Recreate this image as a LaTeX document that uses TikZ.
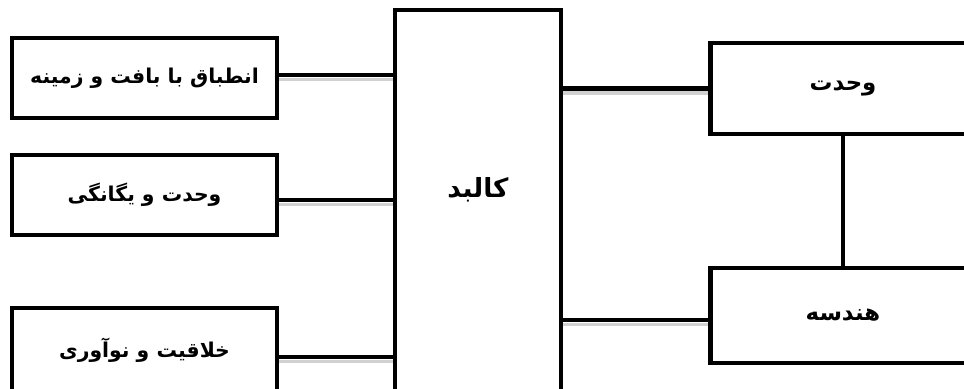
\documentclass[tikz,border=0pt]{standalone}
\usepackage{fontspec}
\newfontfamily\fafont[Script=Arabic]{DejaVu Sans}
\TeXXeTstate=1
\usetikzlibrary{positioning,calc}
\newcommand{\fa}[1]{{\fafont\bfseries\beginR #1\endR}}

\begin{document}
\begin{tikzpicture}[x=0.2mm, y=-0.2mm, every node/.style={font=\fontsize{11.6}{13}\selectfont}]
  \tikzstyle{box}=[draw=black, line width=2.5pt, fill=white, minimum width=5.3cm, align=center, inner sep=0pt]
  \tikzstyle{link}=[line width=2.4pt, preaction={draw=black!18, line width=2pt, transform canvas={yshift=-2.5pt}}]

  \useasboundingbox (0,0) rectangle (964,389);
  \clip (0,0) rectangle (964,389);

  \node[box, minimum height=1.6cm] (fit) at (144.5,78) {\fa{انطباق با بافت و زمینه}};
  \node[box, minimum height=1.6cm] (unity) at (144.5,195) {\fa{وحدت و یگانگی}};
  \node[box, minimum height=1.68cm] (creat) at (144.5,350) {\fa{خلاقیت و نوآوری}};
  \node[box, minimum width=3.32cm, minimum height=7.8cm,
        label={[yshift=0.3cm, font=\fontsize{15}{17}\selectfont]center:\fa{کالبد}}] (kalbad) at (478,205) {};
  \node[box, minimum height=1.82cm, font=\fontsize{13}{15}\selectfont] (vahdat) at (843,88.5) {\fa{وحدت}};
  \node[box, minimum height=1.9cm, font=\fontsize{13}{15}\selectfont] (geom) at (843,315.5) {\fa{هندسه}};

  \draw[link] ([yshift=0.06cm]fit.east) -- ([yshift=0.06cm]fit.east -| kalbad.west);
  \draw[link] ([yshift=-0.1cm]unity.east) -- ([yshift=-0.1cm]unity.east -| kalbad.west);
  \draw[link] ([yshift=-0.14cm]creat.east) -- ([yshift=-0.14cm]creat.east -| kalbad.west);
  \draw[link] (vahdat.west -| kalbad.east) -- (vahdat.west);
  \draw[link] ([yshift=-0.09cm]geom.west -| kalbad.east) -- ([yshift=-0.09cm]geom.west);
  \draw[line width=2.4pt] (vahdat.south) -- (geom.north);
\end{tikzpicture}
\end{document}
